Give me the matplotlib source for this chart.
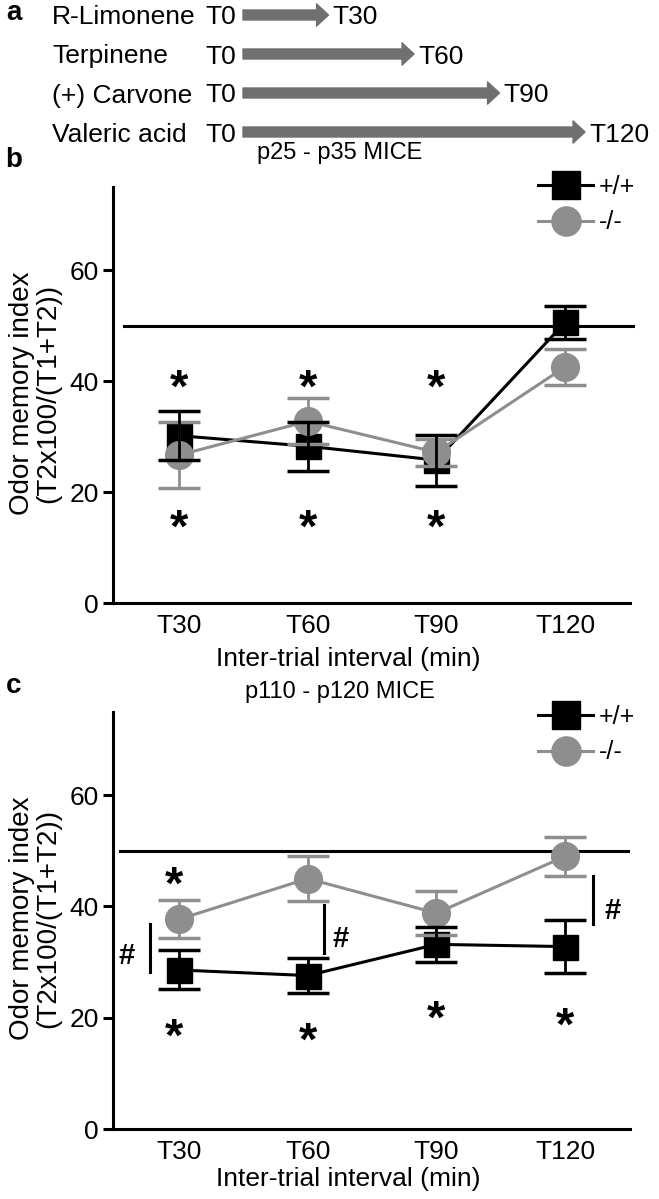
import matplotlib
matplotlib.use('Agg')
import matplotlib.pyplot as plt
from matplotlib.lines import Line2D
from matplotlib.transforms import blended_transform_factory
import numpy as np

plt.rcParams['font.family'] = ['Liberation Sans', 'DejaVu Sans']

# panel a: odor and end of inter-trial interval (min)
odors = ['R-Limonene', 'Terpinene', '(+) Carvone', 'Valeric acid']
odor_end = [30, 60, 90, 120]

intervals = ['T30', 'T60', 'T90', 'T120']

# panel b: p25 - p35 mice (mean, sem)
b_wt = [30.2, 28.3, 25.8, 50.6]
b_wt_err = [4.4, 4.4, 4.6, 3.0]
b_ko = [26.7, 32.8, 27.2, 42.6]
b_ko_err = [5.9, 4.1, 2.4, 3.3]
b_star_x = [1, 2, 3]
b_star_up = [41.0, 41.0, 41.0]
b_star_dn = [15.7, 15.7, 15.7]

# panel c: p110 - p120 mice
c_wt = [28.6, 27.6, 33.2, 32.8]
c_wt_err = [3.5, 3.1, 3.2, 4.7]
c_ko = [37.7, 45.0, 38.8, 49.0]
c_ko_err = [3.4, 4.1, 4.0, 3.5]
c_star_up_x = [0.96]
c_star_up = [46.1]
c_star_dn_x = [0.96, 2, 3, 4]
c_star_dn = [18.7, 18.0, 22.0, 20.8]
c_hash_line_x = [0.773, 2.13, 4.22]
c_hash_lo = [28.2, 31.6, 36.9]
c_hash_hi = [36.9, 40.3, 45.5]
c_hash_x = [0.593, 2.255, 4.37]
c_hash_y = [31.6, 34.6, 39.7]

chance = 50

GRAY = '#8e8e8e'
ARROW = '#707070'
FS = 19

W, H = 659, 1199
fig = plt.figure(figsize=(W / 100, H / 100), dpi=100)


def sig(ax, x, y, s, fs):
    # centre the glyph on (x, y)
    k = 0.55 if s == '*' else 0.36
    for xi, yi in zip(x, y):
        ax.annotate(s, (xi, yi), xytext=(0, -k * fs), textcoords='offset points',
                    ha='center', va='baseline', fontsize=fs, fontweight='bold',
                    zorder=7, annotation_clip=False)


def panel(ax, wt, wt_err, ko, ko_err, ref_x):
    x = np.arange(1, len(wt) + 1)
    ax.plot(ref_x, [chance, chance], color='black', lw=2.2, clip_on=False, zorder=2)
    ax.plot(x, wt, color='black', lw=2.2, marker='s', ms=18, zorder=3)
    ax.plot(x, ko, color=GRAY, lw=2.2, marker='o', ms=20, zorder=4)
    ax.errorbar(x, ko, yerr=ko_err, fmt='none', ecolor=GRAY, elinewidth=2,
                capsize=15, capthick=2.5, zorder=5)
    ax.errorbar(x, wt, yerr=wt_err, fmt='none', ecolor='black', elinewidth=2,
                capsize=15, capthick=2.5, zorder=6)
    ax.set_xlim(0.487, 4.504)
    ax.set_ylim(0, 75)
    ax.set_yticks([0, 20, 40, 60])
    ax.set_xticks(x, intervals)
    for s in ['top', 'right']:
        ax.spines[s].set_visible(False)
    for s in ['left', 'bottom']:
        ax.spines[s].set_linewidth(2.2)
    ax.tick_params(axis='y', direction='out', length=7, width=2.2, labelsize=FS, pad=3)
    ax.tick_params(axis='x', length=0, labelsize=FS, pad=8)
    handles = [Line2D([], [], color='black', lw=2.2, marker='s', ms=20),
               Line2D([], [], color=GRAY, lw=2.2, marker='o', ms=21)]
    return handles


def legend(ax, handles, top_px):
    ax.legend(handles, ['+/+', '-/-'], frameon=False, fontsize=18, handlelength=2.2,
              handletextpad=0.25, labelspacing=0.45, borderpad=0, borderaxespad=0,
              loc='upper left', bbox_to_anchor=(538 / W, 1 - top_px / H),
              bbox_transform=fig.transFigure)


# ---- panel a ----
ax_a = fig.add_axes([243 / W, 1 - 132 / H, (585 - 243) / W, (132 - 15) / H])
ax_a.set_xlim(0, 120)
ax_a.set_ylim(3, 0)
ax_a.axis('off')
tr = blended_transform_factory(fig.transFigure, ax_a.transData)
for i, (name, end) in enumerate(zip(odors, odor_end)):
    ax_a.annotate('', xy=(end, i), xytext=(0, i),
                  arrowprops=dict(arrowstyle='simple,head_length=0.86,head_width=1.6,tail_width=0.72',
                                  color=ARROW, shrinkA=0, shrinkB=0, mutation_scale=10))
    ax_a.text(52 / W, i, name, transform=tr, ha='left', va='center_baseline', fontsize=FS)
    ax_a.annotate('T0', (0, i), xytext=(-5, 0), textcoords='offset points',
                  ha='right', va='center_baseline', fontsize=FS)
    ax_a.annotate('T%d' % end, (end, i), xytext=(3, 0), textcoords='offset points',
                  ha='left', va='center_baseline', fontsize=FS)

# ---- panel b ----
ax_b = fig.add_axes([113 / W, 1 - 603.3 / H, 517 / W, (603.3 - 187) / H])
hb = panel(ax_b, b_wt, b_wt_err, b_ko, b_ko_err, [0.573, 4.53])
sig(ax_b, b_star_x, b_star_up, '*', 34)
sig(ax_b, b_star_x, b_star_dn, '*', 34)
legend(ax_b, hb, 175)

# ---- panel c ----
ax_c = fig.add_axes([113 / W, 1 - 1129.3 / H, 517 / W, (1129.3 - 711.5) / H])
hc = panel(ax_c, c_wt, c_wt_err, c_ko, c_ko_err, [0.538, 4.49])
sig(ax_c, c_star_up_x, c_star_up, '*', 34)
sig(ax_c, c_star_dn_x, c_star_dn, '*', 34)
for xl, lo, hi in zip(c_hash_line_x, c_hash_lo, c_hash_hi):
    ax_c.plot([xl, xl], [lo, hi], color='black', lw=2.2, clip_on=False)
sig(ax_c, c_hash_x, c_hash_y, '#', 21)
legend(ax_c, hc, 705)

# ---- labels ----
for letter, y in [('a', 13), ('b', 160), ('c', 686)]:
    fig.text(14 / W, 1 - y / H, letter, fontsize=20, fontweight='bold', ha='center', va='center')
fig.text(340 / W, 1 - 153 / H, 'p25 - p35 MICE', fontsize=17, ha='center', va='center')
fig.text(340 / W, 1 - 692 / H, 'p110 - p120 MICE', fontsize=17, ha='center', va='center')
for y in [659, 1179]:
    fig.text(348 / W, 1 - y / H, 'Inter-trial interval (min)', fontsize=19, ha='center', va='center')
for yc in [393, 918]:
    fig.text(22 / W, 1 - yc / H, 'Odor memory index', fontsize=20, rotation=90, ha='center', va='center')
    fig.text(48 / W, 1 - yc / H, '(T2x100/(T1+T2))', fontsize=20, rotation=90, ha='center', va='center')

fig.savefig('out.png', dpi=100)
